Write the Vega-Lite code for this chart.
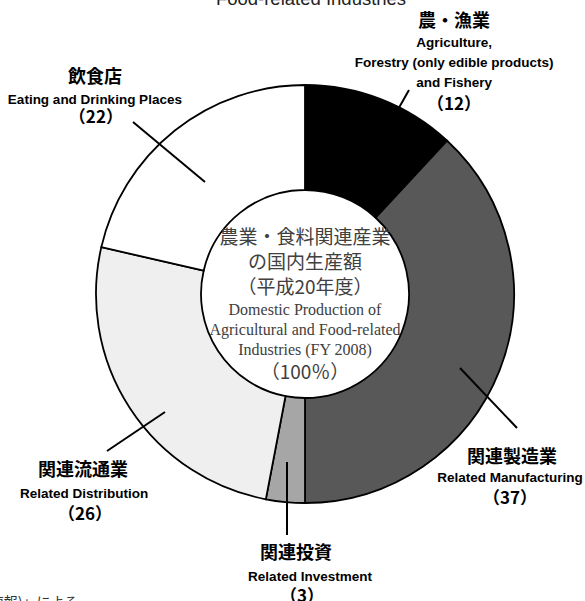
{
  "$schema": "https://vega.github.io/schema/vega-lite/v6.json",
  "width": 560,
  "height": 588,
  "autosize": "none",
  "padding": {"left": 25, "right": 0, "top": 0, "bottom": 13},
  "background": "white",
  "config": {"view": {"stroke": null}, "text": {"font": "Noto Sans CJK JP"}},
  "data": {
    "values": [
      {"i": 1, "key": "agri", "value": 11.9, "jp": "農・漁業", "en": "Agriculture,\nForestry (only edible products)\nand Fishery", "n": "（12）"},
      {"i": 2, "key": "manuf", "value": 38.1, "jp": "関連製造業", "en": "Related Manufacturing", "n": "（37）"},
      {"i": 3, "key": "invest", "value": 3.0, "jp": "関連投資", "en": "Related Investment", "n": "（3）"},
      {"i": 4, "key": "dist", "value": 25.6, "jp": "関連流通業", "en": "Related Distribution", "n": "（26）"},
      {"i": 5, "key": "eat", "value": 21.4, "jp": "飲食店", "en": "Eating and Drinking Places", "n": "（22）"}
    ]
  },
  "layer": [
    {
      "mark": {"type": "arc", "outerRadius": 209, "innerRadius": 104, "stroke": "#000000", "strokeWidth": 1.8},
      "encoding": {
        "theta": {"field": "value", "type": "quantitative", "stack": true},
        "order": {"field": "i", "type": "quantitative"},
        "color": {"field": "key", "type": "nominal", "legend": null,
          "scale": {"domain": ["agri", "manuf", "invest", "dist", "eat"], "range": ["#000000", "#585858", "#a6a6a6", "#efefef", "#ffffff"]}}
      }
    },
    {
      "transform": [{"filter": "datum.key === 'agri'"}],
      "layer": [
        {"mark": {"type": "rule", "stroke": "#000000", "strokeWidth": 2}, "encoding": {"x": {"value": 384}, "y": {"value": 90}, "x2": {"value": 350}, "y2": {"value": 150}}},
        {"mark": {"type": "text", "fontWeight": "bold", "fontSize": 18, "dy": -41}, "encoding": {"text": {"field": "jp", "type": "nominal"}, "theta": {"value": 0.5728}, "radius": {"value": 275}}},
        {"mark": {"type": "text", "font": "Liberation Sans", "fontWeight": "bold", "fontSize": 13.5, "lineHeight": 20, "lineBreak": "\n", "dy": -20}, "encoding": {"text": {"field": "en", "type": "nominal"}, "theta": {"value": 0.5728}, "radius": {"value": 275}}},
        {"mark": {"type": "text", "fontWeight": "bold", "fontSize": 17, "dy": 42}, "encoding": {"text": {"field": "n", "type": "nominal"}, "theta": {"value": 0.5728}, "radius": {"value": 275}}}
      ]
    },
    {
      "transform": [{"filter": "datum.key === 'manuf'"}],
      "layer": [
        {"mark": {"type": "rule", "stroke": "#000000", "strokeWidth": 2}, "encoding": {"x": {"value": 435}, "y": {"value": 368}, "x2": {"value": 492}, "y2": {"value": 428}}},
        {"mark": {"type": "text", "fontWeight": "bold", "fontSize": 18, "dy": -20, "dx": 2}, "encoding": {"text": {"field": "jp", "type": "nominal"}, "theta": {"value": 2.3025}, "radius": {"value": 275.5}}},
        {"mark": {"type": "text", "font": "Liberation Sans", "fontWeight": "bold", "fontSize": 13.5}, "encoding": {"text": {"field": "en", "type": "nominal"}, "theta": {"value": 2.3025}, "radius": {"value": 275.5}}},
        {"mark": {"type": "text", "fontWeight": "bold", "fontSize": 17, "dy": 21}, "encoding": {"text": {"field": "n", "type": "nominal"}, "theta": {"value": 2.3025}, "radius": {"value": 275.5}}}
      ]
    },
    {
      "transform": [{"filter": "datum.key === 'invest'"}],
      "layer": [
        {"mark": {"type": "rule", "stroke": "#000000", "strokeWidth": 2}, "encoding": {"x": {"value": 262}, "y": {"value": 462}, "x2": {"value": 262}, "y2": {"value": 535}}},
        {"mark": {"type": "text", "fontWeight": "bold", "fontSize": 18, "dy": -23, "dx": -14}, "encoding": {"text": {"field": "jp", "type": "nominal"}, "theta": {"value": 3.1239}, "radius": {"value": 283}}},
        {"mark": {"type": "text", "font": "Liberation Sans", "fontWeight": "bold", "fontSize": 13.5}, "encoding": {"text": {"field": "en", "type": "nominal"}, "theta": {"value": 3.1239}, "radius": {"value": 283}}},
        {"mark": {"type": "text", "fontWeight": "bold", "fontSize": 17, "dy": 20, "dx": -8}, "encoding": {"text": {"field": "n", "type": "nominal"}, "theta": {"value": 3.1239}, "radius": {"value": 283}}}
      ]
    },
    {
      "transform": [{"filter": "datum.key === 'dist'"}],
      "layer": [
        {"mark": {"type": "rule", "stroke": "#000000", "strokeWidth": 2}, "encoding": {"x": {"value": 82}, "y": {"value": 451}, "x2": {"value": 140}, "y2": {"value": 412}}},
        {"mark": {"type": "text", "fontWeight": "bold", "fontSize": 18, "dy": -23, "dx": -1}, "encoding": {"text": {"field": "jp", "type": "nominal"}, "theta": {"value": 3.9769}, "radius": {"value": 298}}},
        {"mark": {"type": "text", "font": "Liberation Sans", "fontWeight": "bold", "fontSize": 13.5}, "encoding": {"text": {"field": "en", "type": "nominal"}, "theta": {"value": 3.9769}, "radius": {"value": 298}}},
        {"mark": {"type": "text", "fontWeight": "bold", "fontSize": 17, "dy": 21, "dx": 1}, "encoding": {"text": {"field": "n", "type": "nominal"}, "theta": {"value": 3.9769}, "radius": {"value": 298}}}
      ]
    },
    {
      "transform": [{"filter": "datum.key === 'eat'"}],
      "layer": [
        {"mark": {"type": "rule", "stroke": "#000000", "strokeWidth": 2}, "encoding": {"x": {"value": 108}, "y": {"value": 122}, "x2": {"value": 180}, "y2": {"value": 182}}},
        {"mark": {"type": "text", "fontWeight": "bold", "fontSize": 18, "dy": -22}, "encoding": {"text": {"field": "jp", "type": "nominal"}, "theta": {"value": 5.458}, "radius": {"value": 286}}},
        {"mark": {"type": "text", "font": "Liberation Sans", "fontWeight": "bold", "fontSize": 13.5}, "encoding": {"text": {"field": "en", "type": "nominal"}, "theta": {"value": 5.458}, "radius": {"value": 286}}},
        {"mark": {"type": "text", "fontWeight": "bold", "fontSize": 17, "dy": 18, "dx": 1}, "encoding": {"text": {"field": "n", "type": "nominal"}, "theta": {"value": 5.458}, "radius": {"value": 286}}}
      ]
    },
    {
      "data": {"values": [{"jp": "農業・食料関連産業\nの国内生産額\n（平成20年度）", "en": "Domestic Production of\nAgricultural and Food-related\nIndustries (FY 2008)", "pct": "（100％）"}]},
      "layer": [
        {"mark": {"type": "text", "fontSize": 19, "lineHeight": 25, "lineBreak": "\n", "fill": "#404040", "dy": -56}, "encoding": {"text": {"field": "jp", "type": "nominal"}}},
        {"mark": {"type": "text", "font": "Liberation Serif", "fontSize": 16, "lineHeight": 20, "lineBreak": "\n", "fill": "#404040", "dy": 16}, "encoding": {"text": {"field": "en", "type": "nominal"}}},
        {"mark": {"type": "text", "fontSize": 19, "fill": "#404040", "dy": 79}, "encoding": {"text": {"field": "pct", "type": "nominal"}}}
      ]
    },
    {
      "data": {"values": [{"t": "Food-related Industries"}]},
      "mark": {"type": "text", "font": "Liberation Sans", "fontSize": 18.5, "baseline": "alphabetic", "dx": 6, "dy": -289, "fill": "#222222"},
      "encoding": {"text": {"field": "t", "type": "nominal"}}
    },
    {
      "data": {"values": [{"t": "資料：農林水産省「農業・食料関連産業の経済計算（速報)」による"}]},
      "mark": {"type": "text", "fontSize": 14, "align": "right", "baseline": "alphabetic", "dx": -227, "dy": 313, "fill": "#333333"},
      "encoding": {"text": {"field": "t", "type": "nominal"}}
    }
  ]
}
